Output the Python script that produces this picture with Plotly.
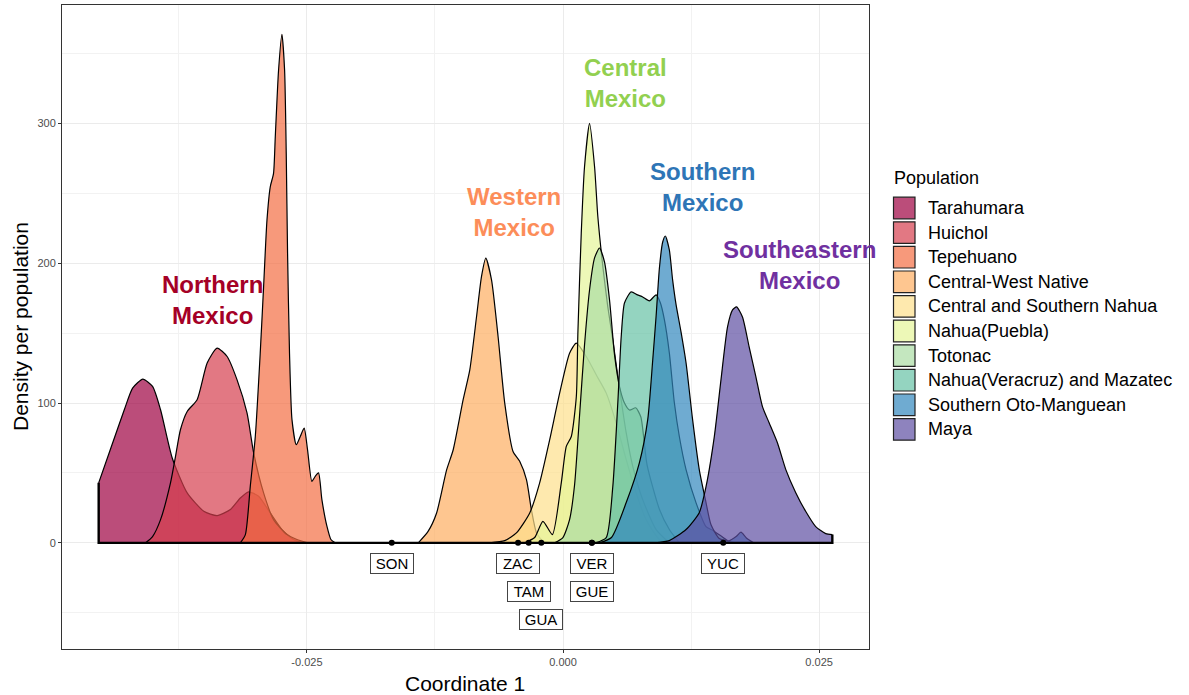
import plotly.graph_objects as go

# ---------------------------------------------------------------- data
populations = [
    "Tarahumara", "Huichol", "Tepehuano", "Central-West Native",
    "Central and Southern Nahua", "Nahua(Puebla)", "Totonac",
    "Nahua(Veracruz) and Mazatec", "Southern Oto-Manguean", "Maya",
]
palette = ["#9E0142", "#D53E4F", "#F46D43", "#FDAE61", "#FEE08B",
           "#E6F598", "#ABDDA4", "#66C2A5", "#3288BD", "#5E4FA2"]

tarahumara_x = [-0.04533, -0.04397, -0.04283, -0.04202, -0.04102, -0.04007, -0.03929,
                -0.03815, -0.03669, -0.03507, -0.03377, -0.03247, -0.03150, -0.03069,
                -0.02972, -0.02858, -0.02744, -0.02631, -0.02536]
tarahumara_y = [42.9, 71.4, 95.2, 110.7, 117.1, 111.9, 95.2,
                60.7, 35.7, 22.6, 19.5, 23.8, 32.1, 36.5,
                33.3, 21.4, 9.5, 2.4, 0]

huichol_x = [-0.04075, -0.04007, -0.03929, -0.03832, -0.03783, -0.03735, -0.03669, -0.03572,
             -0.03474, -0.03377, -0.03279, -0.03182, -0.03085, -0.03020, -0.02923,
             -0.02826, -0.02695, -0.02598, -0.02488]
huichol_y = [0, 4.5, 16.6, 42.9, 61.9, 80.9, 94.0, 102.4,
             128.6, 139.3, 133.3, 116.6, 92.9, 64.3, 35.7,
             16.6, 5.9, 2.4, 0]

tepehuano_x = [-0.03150, -0.03101, -0.03053, -0.03004, -0.02956, -0.02923, -0.02890,
               -0.02858, -0.02826, -0.02809, -0.02777, -0.02744, -0.02718, -0.02702,
               -0.02689, -0.02670, -0.02646, -0.02604, -0.02565, -0.02527, -0.02494,
               -0.02452, -0.02419, -0.02387, -0.02354, -0.02305, -0.02266, -0.02225]
tepehuano_y = [0, 5.9, 40.4, 76.1, 135.7, 183.3, 230.9,
               254.7, 264.3, 290.4, 338.1, 363.8, 338.1, 278.6,
               207.1, 135.7, 88.1, 70.2, 76.1, 82.1, 66.6,
               44.0, 47.6, 50.0, 30.9, 11.9, 2.4, 0]

central_west_x = [-0.01413, -0.01319, -0.01234, -0.01137, -0.01072, -0.00975, -0.00910,
                  -0.00844, -0.00796, -0.00754, -0.00698, -0.00634, -0.00569, -0.00488,
                  -0.00423, -0.00357, -0.00309, -0.00260, -0.00196, -0.00131]
central_west_y = [0, 8.0, 21.4, 52.0, 66.6, 102.4, 123.8,
                  161.9, 190.4, 203.6, 188.1, 147.6, 100.0, 65.4,
                  58.3, 45.2, 23.8, 7.4, 1.1, 0]

cs_nahua_x = [-0.00715, -0.00569, -0.00455, -0.00325, -0.00228, -0.00130, -0.00033,
              0.00064, 0.00130, 0.00227, 0.00324, 0.00422, 0.00519, 0.00617,
              0.00714, 0.00811, 0.00941, 0.01038]
cs_nahua_y = [0, 1.6, 7.1, 21.4, 42.9, 73.8, 107.1,
              135.7, 142.9, 133.3, 120.2, 107.1, 85.7, 59.5,
              35.7, 16.6, 2.4, 0]

puebla_x = [-0.00374, -0.00277, -0.00196, -0.00104, -0.00017, 0.00032, 0.00081,
            0.00130, 0.00145, 0.00178, 0.00210, 0.00259, 0.00308, 0.00340,
            0.00389, 0.00437, 0.00486, 0.00535, 0.00617, 0.00681, 0.00778,
            0.00909, 0.01038]
puebla_y = [0, 3.8, 15.4, 5.9, 42.9, 69.0, 76.1,
            104.7, 150.0, 221.4, 269.0, 300.0, 269.0, 233.3,
            197.6, 169.0, 145.2, 119.0, 78.6, 54.7, 30.9,
            9.5, 0]

totonac_x = [-0.00082, -0.00001, 0.00064, 0.00113, 0.00162, 0.00210, 0.00259,
             0.00308, 0.00356, 0.00405, 0.00454, 0.00503, 0.00551, 0.00600,
             0.00649, 0.00710, 0.00760, 0.00820, 0.00941, 0.01038, 0.01136]
totonac_y = [0, 3.8, 16.6, 41.6, 91.6, 141.6, 180.9,
             203.8, 210.9, 200.9, 173.8, 134.5, 112.0, 100.0,
             95.0, 96.6, 90.0, 56.0, 24.0, 9.5, 0]

veracruz_x = [0.00318, 0.00422, 0.00486, 0.00535, 0.00568, 0.00600, 0.00665,
              0.00727, 0.00778, 0.00843, 0.00909, 0.00951, 0.00990, 0.01038,
              0.01087, 0.01136, 0.01201, 0.01298, 0.01396, 0.01460, 0.01540,
              0.01620, 0.01700]
veracruz_y = [0, 3.8, 40.2, 100.2, 147.4, 171.6, 179.5,
              177.4, 175.9, 173.1, 177.4, 171.6, 159.5, 135.9,
              100.2, 75.9, 52.4, 28.8, 11.6, 9.0, 5.0,
              1.0, 0]

oto_manguean_x = [0.00356, 0.00473, 0.00617, 0.00746, 0.00827, 0.00876, 0.00909,
                  0.00941, 0.00973, 0.00999, 0.01038, 0.01070, 0.01104, 0.01152,
                  0.01201, 0.01265, 0.01330, 0.01396, 0.01444, 0.01525, 0.01620,
                  0.01690, 0.01737, 0.01790, 0.01860]
oto_manguean_y = [0, 3.8, 28.8, 57.4, 88.1, 131.0, 162.4,
                  196.6, 215.2, 219.5, 209.5, 188.1, 170.2, 150.9,
                  128.8, 88.1, 52.4, 28.8, 13.1, 3.1, 1.5,
                  4.5, 7.6, 3.5, 0]

maya_x = [0.00892, 0.01038, 0.01201, 0.01330, 0.01396, 0.01477, 0.01542,
          0.01606, 0.01655, 0.01694, 0.01752, 0.01817, 0.01883, 0.01947,
          0.02012, 0.02093, 0.02175, 0.02272, 0.02370, 0.02467, 0.02565,
          0.02629]
maya_y = [0, 1.6, 9.5, 21.6, 40.2, 76.0, 116.6,
          154.5, 166.6, 168.8, 161.6, 140.2, 118.8, 97.4,
          85.9, 71.6, 52.4, 35.9, 22.4, 11.6, 6.6,
          5.9]

density_x = [tarahumara_x, huichol_x, tepehuano_x, central_west_x, cs_nahua_x,
             puebla_x, totonac_x, veracruz_x, oto_manguean_x, maya_x]
density_y = [tarahumara_y, huichol_y, tepehuano_y, central_west_y, cs_nahua_y,
             puebla_y, totonac_y, veracruz_y, oto_manguean_y, maya_y]

# sampled states placed on the axis
state_labels = ["SON", "ZAC", "TAM", "GUA", "VER", "GUE", "YUC"]
state_x = [-0.01672, -0.00439, -0.00335, -0.00212, 0.00282, 0.00282, 0.01564]
state_label_y = [-15, -15, -35, -55, -15, -35, -15]

# regional headings
region_text = ["Northern<br>Mexico", "Western<br>Mexico", "Central<br>Mexico",
               "Southern<br>Mexico", "Southeastern<br>Mexico"]
region_colors = ["#A50026", "#FC8D59", "#92D050", "#2E75B6", "#7030A0"]
region_x = [-0.03423, -0.00481, 0.00610, 0.01358, 0.02313]
region_y = [173.8, 236.6, 328.8, 254.5, 198.8]

FONT = "Liberation Sans, Arial, Helvetica, sans-serif"
FILL_ALPHA = 0.7


def rgba(hex_color, alpha):
    h = hex_color.lstrip("#")
    r, g, b = int(h[0:2], 16), int(h[2:4], 16), int(h[4:6], 16)
    return f"rgba({r},{g},{b},{alpha})"


# axis limits with a 5% expansion around the data
x_lo = min(min(xs) for xs in density_x)
x_hi = max(max(xs) for xs in density_x)
y_hi = max(max(ys) for ys in density_y)
y_lo = min(state_label_y)
x_pad = 0.05 * (x_hi - x_lo)
y_pad = 0.05 * (y_hi - y_lo)

fig = go.Figure()

for name, color, xs, ys in zip(populations, palette, density_x, density_y):
    fig.add_trace(go.Scatter(
        x=xs, y=ys, name=name, mode="lines",
        line=dict(color="black", width=1.2, shape="spline", smoothing=0.6),
        fill="tozeroy", fillcolor=rgba(color, FILL_ALPHA),
        showlegend=False, hoverinfo="skip",
    ))

# common density baseline with the outer edges of the first and last curves
fig.add_trace(go.Scatter(
    x=[x_lo, x_lo, x_hi, x_hi],
    y=[tarahumara_y[0], 0, 0, maya_y[-1]],
    mode="lines", line=dict(color="black", width=2.4),
    showlegend=False, hoverinfo="skip",
))

fig.add_trace(go.Scatter(
    x=state_x, y=[0] * len(state_x), mode="markers",
    marker=dict(color="black", size=6), showlegend=False, hoverinfo="skip",
))

annotations = []
for lab, sx, sy in zip(state_labels, state_x, state_label_y):
    annotations.append(dict(
        x=sx, y=sy, xref="x", yref="y", text=lab, showarrow=False,
        font=dict(family=FONT, size=15, color="black"),
        bgcolor="white", bordercolor="#444444", borderwidth=1,
        borderpad=1, width=40, height=17, xanchor="center", yanchor="middle",
    ))

for txt, col, rx, ry in zip(region_text, region_colors, region_x, region_y):
    annotations.append(dict(
        x=rx, y=ry, xref="x", yref="y", text=f"<b>{txt}</b>", showarrow=False,
        font=dict(family=FONT, size=24, color=col),
        xanchor="center", yanchor="middle", align="center",
    ))

# page geometry of the panel (pixels)
W, H = 1189, 695
ML, MR, MT, MB = 62, 320, 5, 46
PW, PH = W - ML - MR, H - MT - MB


def px(x):
    return (x - ML) / PW


def py(y):
    return (H - MB - y) / PH


annotations.append(dict(
    x=px(465), y=py(683), xref="paper", yref="paper", text="Coordinate 1",
    showarrow=False, font=dict(family=FONT, size=21, color="black"),
    xanchor="center", yanchor="middle",
))
annotations.append(dict(
    x=px(20), y=py(327), xref="paper", yref="paper", text="Density per population",
    showarrow=False, textangle=-90, font=dict(family=FONT, size=21, color="black"),
    xanchor="center", yanchor="middle",
))

# legend
shapes = []
annotations.append(dict(
    x=px(892), y=py(178), xref="paper", yref="paper", text="Population",
    showarrow=False, font=dict(family=FONT, size=18, color="black"),
    xanchor="left", yanchor="middle",
))
for i, (name, color) in enumerate(zip(populations, palette)):
    cy = 208 + 24.6 * i
    shapes.append(dict(
        type="rect", xref="paper", yref="paper",
        x0=px(893.5), x1=px(915), y0=py(cy - 10.8), y1=py(cy + 10.8),
        fillcolor=rgba(color, FILL_ALPHA), line=dict(color="#222222", width=1.2),
    ))
    annotations.append(dict(
        x=px(926), y=py(cy), xref="paper", yref="paper", text=name,
        showarrow=False, font=dict(family=FONT, size=18, color="black"),
        xanchor="left", yanchor="middle",
    ))

axis_common = dict(
    showline=True, linecolor="#333333", linewidth=1, mirror=True,
    ticks="outside", ticklen=3, tickcolor="#333333", tickwidth=1,
    tickfont=dict(family=FONT, size=11, color="#4D4D4D"),
    showgrid=True, gridcolor="#EBEBEB", gridwidth=1, zeroline=False,
)

fig.update_layout(
    width=W, height=H, margin=dict(l=ML, r=MR, t=MT, b=MB),
    paper_bgcolor="white", plot_bgcolor="white",
    showlegend=False, annotations=annotations, shapes=shapes,
    xaxis=dict(
        range=[x_lo - x_pad, x_hi + x_pad],
        tickvals=[-0.025, 0.0, 0.025], ticktext=["-0.025", "0.000", "0.025"],
        minor=dict(tickvals=[-0.0375, -0.0125, 0.0125], showgrid=True,
                   gridcolor="#F2F2F2", gridwidth=1, ticks=""),
        **axis_common,
    ),
    yaxis=dict(
        range=[y_lo - y_pad, y_hi + y_pad],
        tickvals=[0, 100, 200, 300], ticktext=["0", "100", "200", "300"],
        minor=dict(tickvals=[-50, 50, 150, 250, 350], showgrid=True,
                   gridcolor="#F2F2F2", gridwidth=1, ticks=""),
        **axis_common,
    ),
)

fig.write_html("out.html")
